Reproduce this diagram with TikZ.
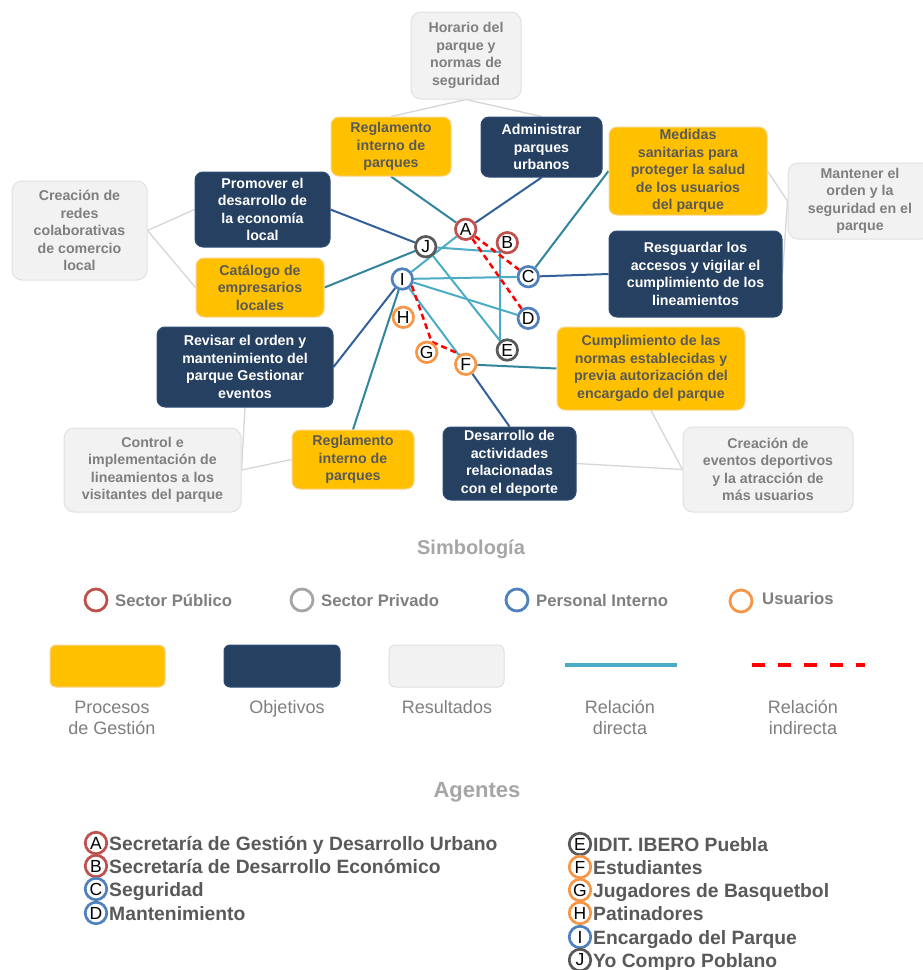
\documentclass[tikz,border=0pt]{standalone}
\usepackage{fontspec}
\setmainfont{Liberation Sans}
\usetikzlibrary{backgrounds}
\definecolor{cOrange}{HTML}{FFC000}
\definecolor{cOrangeB}{HTML}{F9D58E}
\definecolor{cNavy}{HTML}{254061}
\definecolor{cNavyB}{HTML}{2F4E76}
\definecolor{cGray}{HTML}{F2F2F2}
\definecolor{cGrayB}{HTML}{E1E1E1}
\definecolor{cTxt}{HTML}{595959}
\definecolor{cResTxt}{HTML}{7F7F7F}
\definecolor{cTitle}{HTML}{A6A6A6}
\definecolor{cRed}{HTML}{C0504D}
\definecolor{cDGray}{HTML}{595959}
\definecolor{cLGray}{HTML}{A5A5A5}
\definecolor{cBlue}{HTML}{4F81BD}
\definecolor{cOr}{HTML}{F79646}
\definecolor{cInner}{HTML}{4BACC6}
\definecolor{cTeal}{HTML}{31859C}
\definecolor{cLnNavy}{HTML}{34609A}
\definecolor{cLnGray}{HTML}{D6D6D6}
\begin{document}
\begin{tikzpicture}[x=1pt,y=-1pt,
  sz/.style 2 args={minimum width=#1pt, minimum height=#2pt},
  box/.style={rounded corners=8pt, align=center, inner sep=0pt, line width=1pt,
    font=\fontsize{14.2}{17.5}\selectfont\bfseries},
  proc/.style={box, fill=cOrange, draw=cOrangeB, text=cTxt},
  obj/.style={box, fill=cNavy, draw=cNavyB, text=white},
  res/.style={box, fill=cGray, draw=cGrayB, text=cResTxt, rounded corners=10pt},
  ag/.style={circle, minimum size=20.5pt, inner sep=0pt, line width=2.7pt, fill=white,
    text=black, font=\fontsize{17.5}{17.5}\selectfont},
  lgc/.style={circle, minimum size=22pt, inner sep=0pt, line width=2.8pt, fill=white},
  lgt/.style={inner sep=0pt, text=cResTxt, font=\fontsize{16.7}{18}\selectfont\bfseries},
  lgl/.style={inner sep=0pt, align=center, text=cResTxt, font=\fontsize{18}{21}\selectfont},
  lgr/.style={rounded corners=6pt, line width=1pt, inner sep=0pt},
  agc/.style={circle, minimum size=21.5pt, inner sep=0pt, line width=2.7pt, fill=white,
    text=black, font=\fontsize{17.5}{17.5}\selectfont},
  agt/.style={inner sep=0pt, text=cTxt, font=\fontsize{19.3}{21}\selectfont\bfseries},
  lnO/.style={draw=cTeal, line width=2pt},
  lnN/.style={draw=cLnNavy, line width=2pt},
  lnI/.style={draw=cInner, line width=2pt},
  lnR/.style={draw=red, line width=2.5pt, dash pattern=on 6pt off 4pt},
  lnG/.style={draw=cLnGray, line width=1.3pt},
  ttl/.style={inner sep=0pt, text=cTitle, font=\bfseries}
]
\useasboundingbox (0,0) rectangle (922,970);

% ---- boxes ----
\node[res, sz={110}{87}] (horario) at (466,55.5) {Horario del\\parque y\\normas de\\seguridad};
\node[proc, sz={120}{59}] (regtop) at (391,146.5) {Reglamento\\interno de\\parques};
\node[obj, sz={121}{60}] (admin) at (541.5,147) {Administrar\\parques\\urbanos};
\node[proc, sz={158}{88}] (medidas) at (688,171) {Medidas\\sanitarias para\\proteger la salud\\de los usuarios\\del parque};
\node[res, sz={144}{76}] (mantener) at (860,201) {Mantener el\\orden y la\\seguridad en el\\parque};
\node[obj, sz={173}{86}] (resguardar) at (695.5,274) {Resguardar los\\accesos y vigilar el\\cumplimiento de los\\lineamientos};
\node[obj, sz={135}{75}] (promover) at (262.5,209.5) {Promover el\\desarrollo de\\la economía\\local};
\node[res, sz={135}{99}] (redes) at (79.5,230.5) {Creación de\\redes\\colaborativas\\de comercio\\local};
\node[proc, sz={128}{59}] (catalogo) at (260,287.5) {Catálogo de\\empresarios\\locales};
\node[obj, sz={176}{80}] (revisar) at (245,367) {Revisar el orden y\\mantenimiento del\\parque Gestionar\\eventos};
\node[res, sz={177}{84}] (control) at (152.5,470) {Control e\\implementación de\\lineamientos a los\\visitantes del parque};
\node[proc, sz={122}{59}] (regbot) at (353,459.5) {Reglamento\\interno de\\parques};
\node[obj, sz={133}{73}] (desarrollo) at (509.5,463.5) {Desarrollo de\\actividades\\relacionadas\\con el deporte};
\node[proc, sz={188}{83}] (cumplimiento) at (651,368.5) {Cumplimiento de las\\normas establecidas y\\previa autorización del\\encargado del parque};
\node[res, sz={170}{85}] (eventos) at (768,469.5) {Creación de\\eventos deportivos\\y la atracción de\\más usuarios};

% ---- agents in network ----
\node[ag, draw=cRed] (A) at (465.7,229.3) {A};
\node[ag, draw=cRed] (B) at (507.3,242.7) {B};
\node[ag, draw=cDGray] (J) at (425.7,246.7) {J};
\node[ag, draw=cBlue] (C) at (528.3,276.7) {C};
\node[ag, draw=cBlue] (I) at (402.3,279) {I};
\node[ag, draw=cBlue] (D) at (528.3,318.3) {D};
\node[ag, draw=cOr] (H) at (403.3,317.3) {H};
\node[ag, draw=cOr] (G) at (426.7,352.3) {G};
\node[ag, draw=cDGray] (E) at (507.3,350) {E};
\node[ag, draw=cOr] (F) at (465.7,364.3) {F};
\coordinate (jb) at (500,252);

% ---- connectors ----
\begin{scope}[on background layer]
  \fill[white] (0,0) rectangle (922,970);
  \draw[lnG] (horario.south) -- (regtop.north);
  \draw[lnG] (horario.south) -- (admin.north);
  \draw[lnG] (redes.east) -- (promover.west);
  \draw[lnG] (redes.east) -- (catalogo.west);
  \draw[lnG] (mantener.west) -- (medidas.east);
  \draw[lnG] (mantener.west) -- (resguardar.east);
  \draw[lnG] (control.east) -- (revisar.south);
  \draw[lnG] (control.east) -- (regbot.west);
  \draw[lnG] (eventos.west) -- (cumplimiento.south);
  \draw[lnG] (eventos.west) -- (desarrollo.east);

  \draw[lnO] (A) -- (regtop.south);
  \draw[lnN] (A) -- (admin.south);
  \draw[lnN] (J) -- (promover.east);
  \draw[lnO] (J) -- (catalogo.east);
  \draw[lnO] (C) -- (medidas.west);
  \draw[lnN] (C) -- (resguardar.west);
  \draw[lnN] (I) -- (revisar.east);
  \draw[lnO] (I) -- (regbot.north);
  \draw[lnO] (F) -- (cumplimiento.west);
  \draw[lnN] (F) -- (desarrollo.north);

  \draw[lnI] (I) -- (A);
  \draw[lnI] (J) -- (jb) -- (jb |- E);
  \draw[lnI] (J) -- (E);
  \draw[lnI] (I) -- (C);
  \draw[lnI] (I) -- (D);
  \draw[lnI] (I) -- (F);
  \draw[lnR] (A) -- (C);
  \draw[lnR] (A) -- (D);
  \draw[lnR] (I.-35) -- (G.65) -- (F.120);
\end{scope}

% ---- Simbologia ----
\node[ttl, font=\fontsize{20}{22}\selectfont\bfseries] (simb) at (471,549) {Simbología};
\node[lgc, draw=cRed] (lc1) at (96,600) {};
\node[lgt, anchor=base west] (lt1) at (115,606) {Sector Público};
\node[lgc, draw=cLGray] (lc2) at (302,600) {};
\node[lgt, anchor=base west] (lt2) at (321,606) {Sector Privado};
\node[lgc, draw=cBlue] (lc3) at (517,600) {};
\node[lgt, anchor=base west] (lt3) at (536,606) {Personal Interno};
\node[lgc, draw=cOr] (lc4) at (741,601) {};
\node[lgt, anchor=base west] (lt4) at (762,604) {Usuarios};

\node[lgr, fill=cOrange, draw=cOrangeB, sz={115}{42}] (lr1) at (107.5,666) {};
\node[lgr, fill=cNavy, draw=cNavyB, sz={116}{42}] (lr2) at (282,666) {};
\node[lgr, fill=cGray, draw=cGrayB, sz={115}{42}] (lr3) at (446.5,666) {};
\coordinate (ls1) at (565,665);
\coordinate (ls2) at (677,665);
\draw[draw=cInner, line width=4pt] (ls1) -- (ls2);
\coordinate (ld1) at (752,665);
\coordinate (ld2) at (865,665);
\draw[draw=red, line width=4pt, dash pattern=on 13pt off 13pt] (ld1) -- (ld2);

\node[lgl] (ll1) at (112,717.5) {Procesos\\de Gestión};
\node[lgl, anchor=base] (ll2) at (287,713) {Objetivos};
\node[lgl, anchor=base] (ll3) at (447,713) {Resultados};
\node[lgl] (ll4) at (620,717.5) {Relación\\directa};
\node[lgl] (ll5) at (803,717.5) {Relación\\indirecta};

% ---- Agentes ----
\node[ttl, font=\fontsize{22}{24}\selectfont\bfseries] (agtitle) at (477,792) {Agentes};

\node[agc, draw=cRed] (kA) at (96,843) {A};
\node[agt, anchor=base west] (tA) at (109,850) {Secretaría de Gestión y Desarrollo Urbano};
\node[agc, draw=cRed] (kB) at (96,866) {B};
\node[agt, anchor=base west] (tB) at (109,873) {Secretaría de Desarrollo Económico};
\node[agc, draw=cBlue] (kC) at (96,889) {C};
\node[agt, anchor=base west] (tC) at (109,896) {Seguridad};
\node[agc, draw=cBlue] (kD) at (96,913) {D};
\node[agt, anchor=base west] (tD) at (109,920) {Mantenimiento};

\node[agc, draw=cDGray] (kE) at (580,844) {E};
\node[agt, anchor=base west] (tE) at (593,851) {IDIT. IBERO Puebla};
\node[agc, draw=cOr] (kF) at (580,867) {F};
\node[agt, anchor=base west] (tF) at (593,874) {Estudiantes};
\node[agc, draw=cOr] (kG) at (580,890) {G};
\node[agt, anchor=base west] (tG) at (593,897) {Jugadores de Basquetbol};
\node[agc, draw=cOr] (kH) at (580,913) {H};
\node[agt, anchor=base west] (tH) at (593,920) {Patinadores};
\node[agc, draw=cBlue] (kI) at (580,937) {I};
\node[agt, anchor=base west] (tI) at (593,944) {Encargado del Parque};
\node[agc, draw=cDGray] (kJ) at (580,960) {J};
\node[agt, anchor=base west] (tJ) at (593,967) {Yo Compro Poblano};
\end{tikzpicture}
\end{document}
